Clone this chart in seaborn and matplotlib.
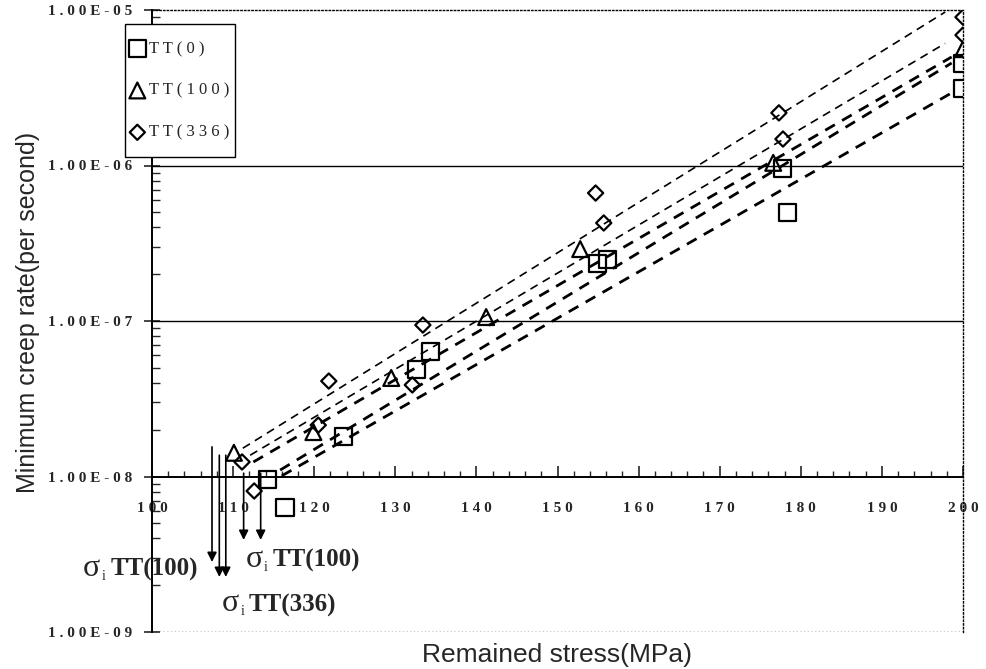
import numpy as np
import pandas as pd
import matplotlib
matplotlib.use("Agg")
import matplotlib.pyplot as plt
import seaborn as sns
from matplotlib.patches import Rectangle
from matplotlib.ticker import FixedLocator, FixedFormatter, MultipleLocator, LogLocator, NullFormatter

# ---------------- data ----------------
tt0_stress = [114.3, 116.4, 123.6, 132.6, 134.3, 154.9, 156.2, 177.7, 178.3, 200, 200]
tt0_rate = [9.5e-9, 6.3e-9, 1.8e-8, 4.9e-8, 6.4e-8, 2.36e-7, 2.47e-7, 9.6e-7, 5.0e-7, 4.56e-6, 3.15e-6]

tt100_stress = [110.1, 119.9, 129.5, 141.2, 152.8, 176.6, 200]
tt100_rate = [1.42e-8, 1.93e-8, 4.3e-8, 1.06e-7, 2.9e-7, 1.04e-6, 5.6e-6]

tt336_stress = [111.1, 112.6, 120.5, 121.8, 132.1, 133.4, 154.7, 155.7, 177.3, 177.8, 200, 200]
tt336_rate = [1.24e-8, 8.07e-9, 2.14e-8, 4.11e-8, 3.88e-8, 9.42e-8, 6.65e-7, 4.27e-7, 2.18e-6, 1.48e-6, 9.0e-6, 6.9e-6]

# fitted (dashed) trend lines: start / end
fit_stress_start = [111.2, 112.1, 112.5, 115.8, 116.0]
fit_stress_end = [197.8, 197.8, 198.6, 198.6, 198.6]
fit_rate_start = [1.52e-8, 1.37e-8, 1.24e-8, 1.10e-8, 1.01e-8]
fit_rate_end = [9.7e-6, 6.1e-6, 4.99e-6, 4.56e-6, 2.93e-6]

# threshold stress arrows
threshold_stress = [107.4, 108.3, 109.1, 111.3, 113.4]
threshold_top = [1.55e-8, 1.37e-8, 1.37e-8, 1.05e-8, 1.05e-8]
threshold_bottom = [2.82e-9, 2.26e-9, 2.26e-9, 3.91e-9, 3.91e-9]

series_labels = ["TT(0)", "TT(100)", "TT(336)"]
ytick_values = [1e-9, 1e-8, 1e-7, 1e-6, 1e-5]
ytick_labels = ["1.00E-09", "1.00E-08", "1.00E-07", "1.00E-06", "1.00E-05"]
xtick_values = [100, 110, 120, 130, 140, 150, 160, 170, 180, 190, 200]
xtick_labels = ["100", "110", "120", "130", "140", "150", "160", "170", "180", "190", "200"]

annot_labels = ["TT(100)", "TT(100)", "TT(336)"]

# ---------------- style ----------------
sns.set_theme(style="white")
plt.rcParams["font.family"] = ["Liberation Serif", "DejaVu Serif"]

def spaced(s):
    return " ".join(list(s))

W, H = 987, 669
fig = plt.figure(figsize=(W / 100, H / 100), dpi=100)
ax = fig.add_axes([152 / W, 37 / H, 811 / W, 622 / H])
ax.set_yscale("log")

# trend lines
for i in range(len(fit_stress_start)):
    df = pd.DataFrame({"x": [fit_stress_start[i], fit_stress_end[i]],
                       "y": [fit_rate_start[i], fit_rate_end[i]]})
    fine = i < 2
    sns.lineplot(data=df, x="x", y="y", ax=ax, color="black",
                 lw=1.2 if fine else 2.0,
                 linestyle=(0, (5, 3.5)) if fine else (0, (4, 3)),
                 estimator=None, sort=False)

# scatter series
sns.scatterplot(x=tt0_stress, y=tt0_rate, ax=ax, marker="s", s=150,
                facecolor="none", edgecolor="black", linewidth=1.6,
                label=spaced(series_labels[0]), zorder=5)
sns.scatterplot(x=tt100_stress, y=tt100_rate, ax=ax, marker="^", s=130,
                facecolor="none", edgecolor="black", linewidth=1.6,
                label=spaced(series_labels[1]), zorder=5)
sns.scatterplot(x=tt336_stress, y=tt336_rate, ax=ax, marker="D", s=60,
                facecolor="none", edgecolor="black", linewidth=1.6,
                label=spaced(series_labels[2]), zorder=5)

# grid lines
for v in ytick_values[2:4]:
    ax.axhline(v, color="black", lw=1.0, zorder=1)
ax.axhline(ytick_values[0], color="black", lw=1.0, ls=":", zorder=1)

# arrows
for xs, yt, yb in zip(threshold_stress, threshold_top, threshold_bottom):
    ax.annotate("", xy=(xs, yb), xytext=(xs, yt),
                arrowprops=dict(arrowstyle="-|>", color="black", lw=1.2,
                                mutation_scale=14, shrinkA=0, shrinkB=0),
                annotation_clip=False)

# sigma_i annotations
annot_pos = [(91.5, 2.29e-9), (111.5, 2.62e-9), (108.6, 1.36e-9)]
for (xa, ya), lab in zip(annot_pos, annot_labels):
    ax.annotate("σ", xy=(xa, ya), xytext=(0, 0), textcoords="offset points",
                fontsize=23, ha="left", va="baseline", annotation_clip=False)
    ax.annotate("i", xy=(xa, ya), xytext=(13.5, -3), textcoords="offset points",
                fontsize=10, ha="left", va="baseline", annotation_clip=False)
    ax.annotate(lab, xy=(xa, ya), xytext=(19.5, 0), textcoords="offset points",
                fontsize=18, fontweight="bold", ha="left", va="baseline",
                annotation_clip=False)

# axes limits & spines
ax.set_xlim(100, 200)
ax.set_ylim(1e-9, 1e-5)
ax.spines["bottom"].set_position(("data", 1e-8))
ax.spines["bottom"].set_linewidth(1.4)
ax.spines["left"].set_linewidth(1.4)
for sp in ["top", "right"]:
    ax.spines[sp].set_linestyle(":")
    ax.spines[sp].set_linewidth(1.0)
for sp in ax.spines.values():
    sp.set_color("black")

ax.xaxis.set_major_locator(FixedLocator(xtick_values))
ax.xaxis.set_major_formatter(FixedFormatter([spaced(t) for t in xtick_labels]))
ax.xaxis.set_minor_locator(MultipleLocator(2))
ax.yaxis.set_major_locator(FixedLocator(ytick_values))
ax.yaxis.set_major_formatter(FixedFormatter([spaced(t) for t in ytick_labels]))
ax.yaxis.set_minor_locator(LogLocator(base=10, subs=np.arange(2, 10)))
ax.yaxis.set_minor_formatter(NullFormatter())

ax.tick_params(axis="x", which="major", direction="in", length=8, width=1.2,
               pad=18, labelsize=11, bottom=True, top=False)
ax.tick_params(axis="x", which="minor", direction="in", length=4, width=1.0,
               bottom=True, top=False)
ax.tick_params(axis="y", which="major", direction="inout", length=12, width=1.2,
               pad=8, labelsize=11, left=True, right=False)
ax.tick_params(axis="y", which="minor", direction="in", length=6, width=1.0,
               left=True, right=False)
for lab in ax.get_xticklabels() + ax.get_yticklabels():
    lab.set_fontweight("bold")

ax.set_xlabel("Remained stress(MPa)", fontsize=19, family=["Liberation Sans", "DejaVu Sans"])
ax.xaxis.set_label_coords(0.5, -0.017)
ax.set_ylabel("Minimum creep rate(per second)", fontsize=18, family=["Liberation Sans", "DejaVu Sans"])
ax.yaxis.set_label_coords(-0.138, 0.513)

# legend (frameless) + its box
handles, labels = ax.get_legend_handles_labels()
leg = ax.legend(handles, labels, loc="upper left",
                bbox_to_anchor=(129 / W, 1 - 41 / H), bbox_transform=fig.transFigure,
                borderaxespad=0, borderpad=0, frameon=False,
                fontsize=12, labelspacing=1.55,
                handletextpad=0.2, handlelength=1.0, markerscale=1.0)
leg.set_zorder(10)
box = Rectangle((125 / W, 1 - 157 / H), 110 / W, 133 / H,
                transform=fig.transFigure, fill=True, facecolor="white",
                edgecolor="black", lw=1.0, zorder=8, clip_on=False)
ax.add_patch(box)

fig.savefig("out.png", dpi=100)
